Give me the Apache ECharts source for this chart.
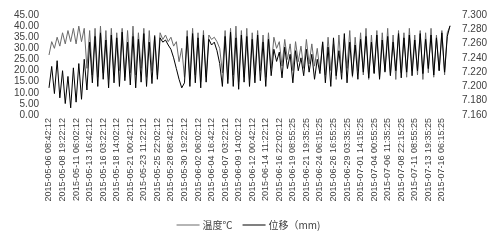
<!DOCTYPE html>
<html><head><meta charset="utf-8">
<script src="https://cdn.jsdelivr.net/npm/echarts@6/dist/echarts.min.js"></script>
<style>html,body{margin:0;padding:0;background:#fff}#c{width:497px;height:243px}</style>
</head><body><div id="c"></div>
<script>
const tickLabels = [
"2015-05-06 08:42:12","2015-05-08 19:22:12","2015-05-11 06:02:12","2015-05-13 16:42:12","2015-05-16 03:22:12",
"2015-05-18 14:02:12","2015-05-21 00:42:12","2015-05-23 11:22:12","2015-05-25 22:02:12","2015-05-28 08:42:12",
"2015-05-30 19:22:12","2015-06-02 06:02:12","2015-06-04 16:42:12","2015-06-07 03:22:12","2015-06-09 14:02:12",
"2015-06-12 00:42:12","2015-06-14 11:22:12","2015-06-16 22:02:12","2015-06-19 08:55:25","2015-06-21 19:35:25",
"2015-06-24 06:15:25","2015-06-26 16:55:25","2015-06-29 03:35:25","2015-07-01 14:15:25","2015-07-04 00:55:25",
"2015-07-06 11:35:25","2015-07-08 22:15:25","2015-07-11 08:55:25","2015-07-13 19:35:25","2015-07-16 06:15:25"
];
const temperature = [
27,33,30,35,31,37,32,38,33,39,32,40,33,39,
21,38,18,39,17,40,19,38,16,39,18,37,20,39,17,38,19,40,18,37,21,39,17,38,20,36,18,
37,34,36,33,35,31,33,24,30,17,
38,16,39,18,37,15,38,17,36,34,35,33,30,19,38,16,39,18,40,15,38,17,39,16,37,
18,38,20,36,17,37,21,35,30,33,22,34,25,32,20,33,24,31,21,34,23,32,22,30,20,
33,18,35,20,32,16,36,19,34,21,38,17,35,20,37,18,39,16,36,19,38,17,37,20,39,18,36,16,38,19,
37,17,39,20,36,18,38,16,37,19,39,17,36,20,38,18,37,40
];
const displacement = [
7.198,7.228,7.190,7.236,7.184,7.222,7.176,7.214,7.170,7.226,7.178,7.232,7.182,7.238,
7.195,7.262,7.205,7.270,7.200,7.275,7.210,7.265,7.198,7.272,7.205,7.268,7.200,7.276,7.208,7.262,7.202,7.270,7.198,7.266,7.206,7.274,7.200,7.262,7.204,7.270,7.210,
7.268,7.262,7.265,7.258,7.252,7.240,7.225,7.210,7.198,7.205,
7.270,7.200,7.274,7.205,7.268,7.198,7.272,7.206,7.266,7.258,7.262,7.250,7.232,7.200,7.270,7.204,7.276,7.200,7.268,7.196,7.272,7.206,7.270,7.200,7.266,
7.205,7.272,7.208,7.262,7.200,7.266,7.215,7.252,7.235,7.248,7.212,7.255,7.225,7.245,7.205,7.250,7.222,7.240,7.215,7.252,7.220,7.245,7.210,7.238,7.218,
7.262,7.205,7.255,7.200,7.268,7.215,7.250,7.210,7.274,7.205,7.262,7.215,7.258,7.210,7.266,7.220,7.270,7.212,7.262,7.218,
7.272,7.210,7.265,7.220,7.270,7.215,7.262,7.222,7.274,7.212,7.268,7.220,7.272,7.215,7.265,7.222,7.274,7.218,7.266,7.225,
7.272,7.216,7.268,7.222,7.275,7.220,7.270,7.285
];
const seriesNames = ["温度℃", "位移（mm)"];
const labelStep = 5;
const categories = temperature.map((_, i) => (i % labelStep === 0 && tickLabels[i / labelStep]) ? tickLabels[i / labelStep] : "");

const chart = echarts.init(document.getElementById('c'), null, {renderer: 'canvas'});
const txt = '#404040';
chart.setOption({
  animation: false,
  backgroundColor: '#fff',
  grid: {left: 49, right: 47, top: 15, bottom: 128},
  legend: {
    data: seriesNames, top: 215, left: 'center', icon: 'rect', itemWidth: 23, itemHeight: 1, itemGap: 10,
    textStyle: {fontSize: 10, color: txt, fontFamily: 'Noto Sans CJK SC', padding: [0, 0, 0, -2]}
  },
  xAxis: {
    type: 'category', data: categories, boundaryGap: false,
    axisLine: {show: false}, axisTick: {show: false}, splitLine: {show: false},
    axisLabel: {interval: labelStep - 1, rotate: 90, fontSize: 9, color: txt, margin: 3, fontFamily: 'Liberation Sans'}
  },
  yAxis: [
    {type: 'value', min: 0, max: 45, interval: 5,
     axisLine: {show: false}, axisTick: {show: false}, splitLine: {show: false},
     axisLabel: {fontSize: 10, color: txt, margin: 10, fontFamily: 'Liberation Sans', formatter: v => v.toFixed(2)}},
    {type: 'value', min: 7.16, max: 7.30, interval: 0.02,
     axisLine: {show: false}, axisTick: {show: false}, splitLine: {show: false},
     axisLabel: {fontSize: 10, color: txt, margin: 12, fontFamily: 'Liberation Sans', formatter: v => v.toFixed(3)}}
  ],
  series: [
    {name: seriesNames[0], type: 'line', yAxisIndex: 0, data: temperature, symbol: 'none',
     lineStyle: {color: '#6a6a6a', width: 1}, itemStyle: {color: '#6a6a6a'}},
    {name: seriesNames[1], type: 'line', yAxisIndex: 1, data: displacement, symbol: 'none',
     lineStyle: {color: '#000', width: 1}, itemStyle: {color: '#000'}}
  ]
});
</script></body></html>
